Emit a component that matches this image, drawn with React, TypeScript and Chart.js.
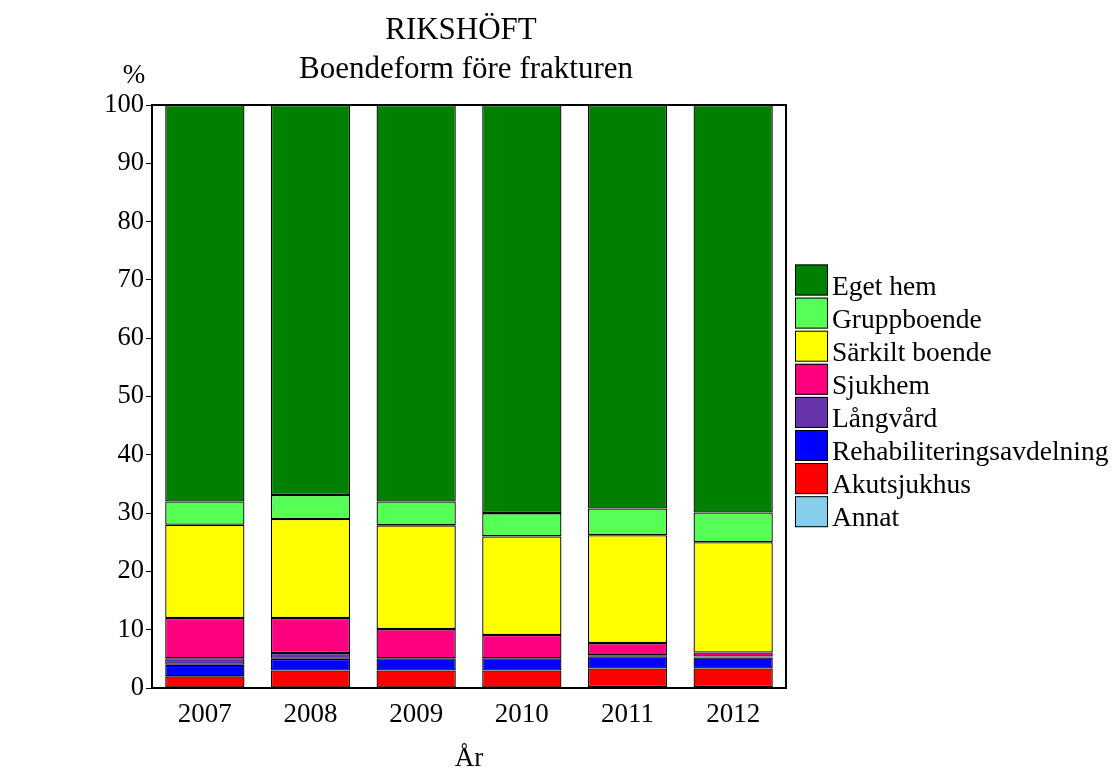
import React, { useEffect, useRef } from "react";
import { Chart, registerables } from "chart.js";

Chart.register(...registerables);

const years = ["2007", "2008", "2009", "2010", "2011", "2012"];
const annat = [0, 0, 0, 0, 0.15, 0.15];
const akutsjukhus = [2, 3, 3, 3, 3.2, 3.2];
const rehabilitering = [2, 2, 2.1, 2.1, 2.1, 1.9];
const langvard = [1.1, 1, 0, 0, 0.15, 0.15];
const sjukhem = [6.9, 6, 5, 4, 2.1, 0.7];
const sarkilt = [16, 17, 17.8, 16.9, 18.5, 18.9];
const gruppboende = [4, 4.1, 4.1, 4, 4.6, 5.1];
const egetHem = [68, 66.9, 68, 70, 69.2, 69.9];

const yTicks = [0, 10, 20, 30, 40, 50, 60, 70, 80, 90, 100];

const seriesNames = [
  "Annat",
  "Akutsjukhus",
  "Rehabiliteringsavdelning",
  "Långvård",
  "Sjukhem",
  "Särkilt boende",
  "Gruppboende",
  "Eget hem",
];
const seriesData = [annat, akutsjukhus, rehabilitering, langvard, sjukhem, sarkilt, gruppboende, egetHem];
const seriesColors = ["#87CEEB", "#FF0000", "#0000FF", "#6633AA", "#FF0080", "#FFFF00", "#55FF55", "#008000"];

const FONT = "'Liberation Serif', 'Times New Roman', serif";

const decorPlugin = {
  id: "decor",
  afterDatasetsDraw(chart: any) {
    const { ctx, chartArea } = chart;
    ctx.save();
    ctx.strokeStyle = "#000";
    ctx.lineWidth = 2;
    ctx.strokeRect(chartArea.left, chartArea.top, chartArea.right - chartArea.left, chartArea.bottom - chartArea.top);
    ctx.restore();
  },
  afterDraw(chart: any) {
    const { ctx } = chart;
    ctx.save();
    ctx.fillStyle = "#000";
    ctx.textBaseline = "alphabetic";
    ctx.textAlign = "center";
    ctx.font = `31px ${FONT}`;
    ctx.fillText("RIKSHÖFT", 461, 39);
    ctx.fillText("Boendeform före frakturen", 466, 78);
    ctx.font = `27px ${FONT}`;
    ctx.fillText("%", 134, 83);
    ctx.fillText("År", 469, 766);

    // legend (reverse order: top item is last dataset)
    const x0 = 795;
    const y0 = 264.5;
    const step = 33.1;
    ctx.textAlign = "left";
    const n = seriesNames.length;
    for (let i = 0; i < n; i++) {
      const idx = n - 1 - i;
      const top = y0 + i * step;
      ctx.fillStyle = seriesColors[idx];
      ctx.fillRect(x0, top, 33, 31);
      ctx.strokeStyle = "#000";
      ctx.lineWidth = 1;
      ctx.strokeRect(x0 + 0.5, top + 0.5, 32, 30);
      ctx.fillStyle = "#000";
      ctx.font = `27.5px ${FONT}`;
      ctx.fillText(seriesNames[idx], 832, top + 30);
    }
    ctx.restore();
  },
};

export default function App() {
  const ref = useRef<HTMLCanvasElement>(null);
  useEffect(() => {
    if (!ref.current) return;
    const chart = new Chart(ref.current, {
      type: "bar",
      data: {
        labels: years,
        datasets: seriesNames.map((name, i) => ({
          label: name,
          data: seriesData[i],
          backgroundColor: seriesColors[i],
          borderColor: "#000",
          borderWidth: 1.3,
          borderSkipped: false,
          categoryPercentage: 1,
          barPercentage: 0.75,
        })),
      },
      options: {
        responsive: false,
        animation: false,
        devicePixelRatio: 1,
        layout: { padding: { top: 105, right: 334, left: 0, bottom: 0 } },
        plugins: {
          legend: { display: false },
          title: { display: false },
          tooltip: { enabled: false },
        },
        scales: {
          x: {
            stacked: true,
            grid: { display: false, drawTicks: false },
            border: { display: true, color: "#000", width: 2 },
            ticks: { color: "#000", font: { family: FONT, size: 27 }, padding: 11, maxRotation: 0 },
            afterFit(scale: any) {
              scale.height = 92;
            },
          },
          y: {
            stacked: true,
            min: 0,
            max: 100,
            afterBuildTicks(scale: any) {
              scale.ticks = yTicks.map((v) => ({ value: v }));
            },
            grid: { display: true, drawOnChartArea: false, drawTicks: true, tickLength: 6, color: "#000", lineWidth: 1 },
            border: { display: true, color: "#000", width: 2 },
            ticks: { color: "#000", font: { family: FONT, size: 26.5 }, padding: 2 },
            afterFit(scale: any) {
              scale.width = 152;
            },
          },
        },
      },
      plugins: [decorPlugin],
    });
    return () => chart.destroy();
  }, []);
  return (
    <div style={{ position: "fixed", left: 0, top: 0, width: 1120, height: 780, background: "#fff" }}>
      <canvas ref={ref} width={1120} height={780} style={{ width: 1120, height: 780 }} />
    </div>
  );
}
